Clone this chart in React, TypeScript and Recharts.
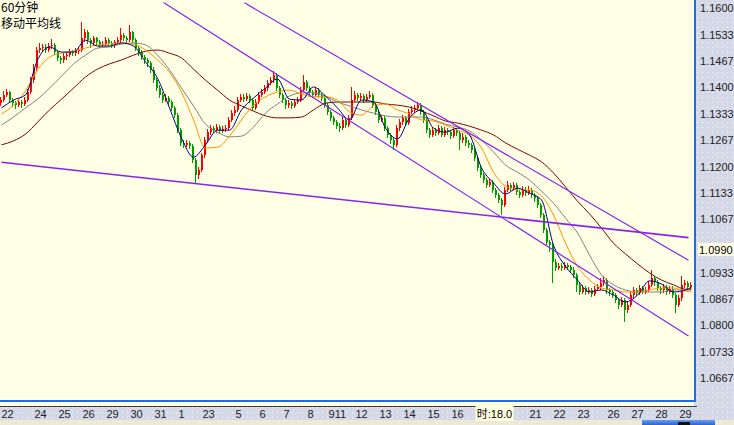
import { ComposedChart, Bar, Line, XAxis, YAxis, ReferenceLine } from "recharts";

// 60-minute bars
const opens = [
  1.1360, 1.1368, 1.1381, 1.1388, 1.1368, 1.1360, 1.1355, 1.1363, 1.1358, 1.1368,
  1.1388, 1.1418, 1.1449, 1.1494, 1.1499, 1.1502, 1.1494, 1.1504, 1.1507, 1.1489,
  1.1474, 1.1469, 1.1479, 1.1481, 1.1489, 1.1486, 1.1491, 1.1494, 1.1524, 1.1539,
  1.1519, 1.1512, 1.1524, 1.1514, 1.1507, 1.1509, 1.1519, 1.1512, 1.1507, 1.1514,
  1.1519, 1.1532, 1.1524, 1.1519, 1.1539, 1.1519, 1.1499, 1.1489, 1.1476, 1.1469,
  1.1461, 1.1444, 1.1418, 1.1398, 1.1381, 1.1368, 1.1373, 1.1363, 1.1348, 1.1330,
  1.1292, 1.1260, 1.1255, 1.1260, 1.1252, 1.1217, 1.1179, 1.1192, 1.1229, 1.1267,
  1.1287, 1.1297, 1.1292, 1.1300, 1.1290, 1.1295, 1.1297, 1.1318, 1.1335, 1.1343,
  1.1368, 1.1376, 1.1371, 1.1378, 1.1368, 1.1348, 1.1363, 1.1381, 1.1388, 1.1398,
  1.1411, 1.1418, 1.1431, 1.1398, 1.1381, 1.1368, 1.1355, 1.1360, 1.1353, 1.1363,
  1.1368, 1.1393, 1.1413, 1.1398, 1.1388, 1.1381, 1.1393, 1.1381, 1.1373, 1.1355,
  1.1338, 1.1323, 1.1313, 1.1303, 1.1297, 1.1318, 1.1305, 1.1323, 1.1368, 1.1381,
  1.1373, 1.1378, 1.1368, 1.1376, 1.1381, 1.1355, 1.1338, 1.1318, 1.1323, 1.1297,
  1.1280, 1.1267, 1.1255, 1.1297, 1.1313, 1.1323, 1.1310, 1.1338, 1.1343, 1.1348,
  1.1355, 1.1338, 1.1318, 1.1292, 1.1280, 1.1292, 1.1285, 1.1297, 1.1280, 1.1292,
  1.1287, 1.1277, 1.1292, 1.1285, 1.1267, 1.1275, 1.1260, 1.1255, 1.1242, 1.1222,
  1.1197, 1.1179, 1.1166, 1.1154, 1.1161, 1.1141, 1.1129, 1.1116, 1.1103, 1.1141,
  1.1154, 1.1146, 1.1154, 1.1136, 1.1129, 1.1141, 1.1134, 1.1141, 1.1129, 1.1121,
  1.1103, 1.1078, 1.1040, 1.1010, 1.1003, 1.0960, 1.0945, 1.0950, 1.0945, 1.0952,
  1.0947, 1.0940, 1.0927, 1.0902, 1.0884, 1.0894, 1.0884, 1.0889, 1.0879, 1.0892,
  1.0897, 1.0907, 1.0914, 1.0889, 1.0884, 1.0877, 1.0864, 1.0851, 1.0864, 1.0839,
  1.0851, 1.0877, 1.0889, 1.0882, 1.0894, 1.0884, 1.0889, 1.0902, 1.0919, 1.0909,
  1.0894, 1.0889, 1.0897, 1.0884, 1.0892, 1.0877, 1.0851, 1.0869, 1.0902, 1.0907,
  1.0897,
];

const highs = [
  1.1375, 1.1392, 1.1396, 1.1391, 1.1374, 1.1366, 1.1370, 1.1368, 1.1376, 1.1395,
  1.1425, 1.1458, 1.1502, 1.1512, 1.1510, 1.1508, 1.1512, 1.1522, 1.1512, 1.1494,
  1.1480, 1.1486, 1.1490, 1.1496, 1.1494, 1.1498, 1.1502, 1.1565, 1.1548, 1.1544,
  1.1524, 1.1530, 1.1528, 1.1520, 1.1516, 1.1526, 1.1524, 1.1518, 1.1520, 1.1526,
  1.1550, 1.1538, 1.1530, 1.1557, 1.1542, 1.1524, 1.1505, 1.1494, 1.1482, 1.1474,
  1.1466, 1.1450, 1.1424, 1.1405, 1.1388, 1.1382, 1.1378, 1.1368, 1.1352, 1.1335,
  1.1298, 1.1268, 1.1266, 1.1264, 1.1256, 1.1222, 1.1200, 1.1235, 1.1274, 1.1295,
  1.1305, 1.1302, 1.1308, 1.1305, 1.1302, 1.1306, 1.1325, 1.1342, 1.1352, 1.1375,
  1.1384, 1.1382, 1.1386, 1.1383, 1.1372, 1.1370, 1.1388, 1.1397, 1.1406, 1.1418,
  1.1426, 1.1441, 1.1435, 1.1404, 1.1386, 1.1374, 1.1367, 1.1366, 1.1370, 1.1376,
  1.1400, 1.1431, 1.1418, 1.1404, 1.1394, 1.1400, 1.1398, 1.1386, 1.1378, 1.1360,
  1.1344, 1.1328, 1.1318, 1.1310, 1.1325, 1.1322, 1.1330, 1.1401, 1.1390, 1.1386,
  1.1385, 1.1383, 1.1384, 1.1390, 1.1386, 1.1360, 1.1344, 1.1330, 1.1328, 1.1302,
  1.1286, 1.1272, 1.1304, 1.1320, 1.1330, 1.1328, 1.1345, 1.1352, 1.1356, 1.1363,
  1.1360, 1.1343, 1.1322, 1.1298, 1.1300, 1.1298, 1.1305, 1.1302, 1.1300, 1.1298,
  1.1292, 1.1300, 1.1298, 1.1290, 1.1284, 1.1280, 1.1266, 1.1260, 1.1248, 1.1228,
  1.1204, 1.1184, 1.1172, 1.1168, 1.1166, 1.1146, 1.1134, 1.1122, 1.1148, 1.1164,
  1.1160, 1.1162, 1.1158, 1.1142, 1.1150, 1.1148, 1.1150, 1.1146, 1.1134, 1.1126,
  1.1108, 1.1082, 1.1046, 1.1016, 1.1008, 1.0966, 1.0958, 1.0956, 1.0960, 1.0958,
  1.0952, 1.0946, 1.0932, 1.0908, 1.0902, 1.0900, 1.0896, 1.0894, 1.0900, 1.0905,
  1.0918, 1.0925, 1.0918, 1.0895, 1.0890, 1.0882, 1.0870, 1.0872, 1.0868, 1.0860,
  1.0884, 1.0896, 1.0894, 1.0902, 1.0898, 1.0896, 1.0912, 1.0940, 1.0924, 1.0914,
  1.0900, 1.0905, 1.0902, 1.0900, 1.0898, 1.0882, 1.0876, 1.0925, 1.0915, 1.0912,
  1.0910,
];

const lows = [
  1.1352, 1.1362, 1.1375, 1.1360, 1.1350, 1.1345, 1.1350, 1.1348, 1.1352, 1.1362,
  1.1383, 1.1412, 1.1442, 1.1486, 1.1490, 1.1486, 1.1488, 1.1496, 1.1482, 1.1466,
  1.1458, 1.1462, 1.1470, 1.1476, 1.1478, 1.1480, 1.1485, 1.1490, 1.1515, 1.1510,
  1.1500, 1.1505, 1.1506, 1.1498, 1.1500, 1.1503, 1.1505, 1.1498, 1.1500, 1.1508,
  1.1512, 1.1516, 1.1510, 1.1514, 1.1510, 1.1492, 1.1480, 1.1468, 1.1460, 1.1452,
  1.1436, 1.1410, 1.1390, 1.1374, 1.1360, 1.1362, 1.1355, 1.1340, 1.1322, 1.1285,
  1.1252, 1.1248, 1.1250, 1.1244, 1.1210, 1.1159, 1.1170, 1.1186, 1.1222, 1.1260,
  1.1280, 1.1284, 1.1286, 1.1283, 1.1284, 1.1288, 1.1292, 1.1312, 1.1328, 1.1338,
  1.1362, 1.1363, 1.1365, 1.1360, 1.1340, 1.1342, 1.1358, 1.1375, 1.1382, 1.1392,
  1.1405, 1.1412, 1.1390, 1.1374, 1.1360, 1.1346, 1.1348, 1.1345, 1.1348, 1.1358,
  1.1362, 1.1388, 1.1390, 1.1380, 1.1372, 1.1375, 1.1374, 1.1365, 1.1348, 1.1330,
  1.1314, 1.1305, 1.1296, 1.1288, 1.1292, 1.1298, 1.1300, 1.1318, 1.1362, 1.1366,
  1.1366, 1.1360, 1.1362, 1.1370, 1.1348, 1.1330, 1.1310, 1.1312, 1.1290, 1.1272,
  1.1258, 1.1242, 1.1250, 1.1290, 1.1306, 1.1302, 1.1305, 1.1332, 1.1336, 1.1342,
  1.1330, 1.1310, 1.1284, 1.1272, 1.1274, 1.1278, 1.1280, 1.1274, 1.1275, 1.1280,
  1.1270, 1.1272, 1.1278, 1.1242, 1.1260, 1.1252, 1.1248, 1.1235, 1.1215, 1.1190,
  1.1172, 1.1158, 1.1146, 1.1148, 1.1134, 1.1120, 1.1108, 1.1078, 1.1098, 1.1135,
  1.1138, 1.1140, 1.1128, 1.1120, 1.1124, 1.1126, 1.1128, 1.1120, 1.1112, 1.1095,
  1.1070, 1.1032, 1.1002, 1.0985, 1.0907, 1.0936, 1.0940, 1.0938, 1.0940, 1.0940,
  1.0932, 1.0918, 1.0885, 1.0876, 1.0878, 1.0876, 1.0878, 1.0872, 1.0874, 1.0886,
  1.0890, 1.0900, 1.0880, 1.0875, 1.0868, 1.0855, 1.0842, 1.0845, 1.0808, 1.0832,
  1.0846, 1.0870, 1.0875, 1.0876, 1.0878, 1.0878, 1.0884, 1.0896, 1.0900, 1.0886,
  1.0880, 1.0882, 1.0876, 1.0878, 1.0870, 1.0831, 1.0845, 1.0862, 1.0895, 1.0890,
  1.0892,
];

const closes = [
  1.1368, 1.1381, 1.1388, 1.1368, 1.1360, 1.1355, 1.1363, 1.1358, 1.1368, 1.1388,
  1.1418, 1.1449, 1.1494, 1.1499, 1.1502, 1.1494, 1.1504, 1.1507, 1.1489, 1.1474,
  1.1469, 1.1479, 1.1481, 1.1489, 1.1486, 1.1491, 1.1494, 1.1524, 1.1539, 1.1519,
  1.1512, 1.1524, 1.1514, 1.1507, 1.1509, 1.1519, 1.1512, 1.1507, 1.1514, 1.1519,
  1.1532, 1.1524, 1.1519, 1.1539, 1.1519, 1.1499, 1.1489, 1.1476, 1.1469, 1.1461,
  1.1444, 1.1418, 1.1398, 1.1381, 1.1368, 1.1373, 1.1363, 1.1348, 1.1330, 1.1292,
  1.1260, 1.1255, 1.1260, 1.1252, 1.1217, 1.1179, 1.1192, 1.1229, 1.1267, 1.1287,
  1.1297, 1.1292, 1.1300, 1.1290, 1.1295, 1.1297, 1.1318, 1.1335, 1.1343, 1.1368,
  1.1376, 1.1371, 1.1378, 1.1368, 1.1348, 1.1363, 1.1381, 1.1388, 1.1398, 1.1411,
  1.1418, 1.1431, 1.1398, 1.1381, 1.1368, 1.1355, 1.1360, 1.1353, 1.1363, 1.1368,
  1.1393, 1.1413, 1.1398, 1.1388, 1.1381, 1.1393, 1.1381, 1.1373, 1.1355, 1.1338,
  1.1323, 1.1313, 1.1303, 1.1297, 1.1318, 1.1305, 1.1323, 1.1368, 1.1381, 1.1373,
  1.1378, 1.1368, 1.1376, 1.1381, 1.1355, 1.1338, 1.1318, 1.1323, 1.1297, 1.1280,
  1.1267, 1.1255, 1.1297, 1.1313, 1.1323, 1.1310, 1.1338, 1.1343, 1.1348, 1.1355,
  1.1338, 1.1318, 1.1292, 1.1280, 1.1292, 1.1285, 1.1297, 1.1280, 1.1292, 1.1287,
  1.1277, 1.1292, 1.1285, 1.1267, 1.1275, 1.1260, 1.1255, 1.1242, 1.1222, 1.1197,
  1.1179, 1.1166, 1.1154, 1.1161, 1.1141, 1.1129, 1.1116, 1.1103, 1.1141, 1.1154,
  1.1146, 1.1154, 1.1136, 1.1129, 1.1141, 1.1134, 1.1141, 1.1129, 1.1121, 1.1103,
  1.1078, 1.1040, 1.1010, 1.1003, 1.0960, 1.0945, 1.0950, 1.0945, 1.0952, 1.0947,
  1.0940, 1.0927, 1.0902, 1.0884, 1.0894, 1.0884, 1.0889, 1.0879, 1.0892, 1.0897,
  1.0907, 1.0914, 1.0889, 1.0884, 1.0877, 1.0864, 1.0851, 1.0864, 1.0839, 1.0851,
  1.0877, 1.0889, 1.0882, 1.0894, 1.0884, 1.0889, 1.0902, 1.0919, 1.0909, 1.0894,
  1.0889, 1.0897, 1.0884, 1.0892, 1.0877, 1.0851, 1.0869, 1.0902, 1.0907, 1.0897,
  1.0902,
];

// moving averages, read every 4th bar (and the last one)
const maBars = Array.from({ length: 58 }, (_, k) => k * 4).concat(230);

const maNavy = [
  1.1348, 1.1368, 1.1381, 1.1469, 1.1502, 1.1489, 1.1489, 1.1519, 1.1504, 1.1504,
  1.1512, 1.1504, 1.1464, 1.1423, 1.1348, 1.1272, 1.1224, 1.1255, 1.1292, 1.1292,
  1.1343, 1.1373, 1.1398, 1.1421, 1.1370, 1.1368, 1.1401, 1.1378, 1.1348, 1.1318,
  1.1368, 1.1363, 1.1297, 1.1270, 1.1323, 1.1343, 1.1297, 1.1287, 1.1297, 1.1280,
  1.1197, 1.1159, 1.1131, 1.1146, 1.1133, 1.1116, 1.1002, 1.0949, 1.0914, 1.0884,
  1.0889, 1.0876, 1.0859, 1.0876, 1.0912, 1.0904, 1.0884, 1.0889, 1.0896,
];
const maOrange = [
  1.1333, 1.1355, 1.1391, 1.1444, 1.1476, 1.1486, 1.1491, 1.1499, 1.1507, 1.1509,
  1.1512, 1.1509, 1.1494, 1.1469, 1.1438, 1.1388, 1.1318, 1.1247, 1.1249, 1.1277,
  1.1318, 1.1355, 1.1376, 1.1388, 1.1393, 1.1383, 1.1376, 1.1376, 1.1368, 1.1338,
  1.1330, 1.1353, 1.1358, 1.1343, 1.1333, 1.1318, 1.1315, 1.1305, 1.1292, 1.1280,
  1.1247, 1.1186, 1.1151, 1.1141, 1.1141, 1.1126, 1.1078, 1.1007, 1.0949, 1.0914,
  1.0894, 1.0889, 1.0884, 1.0884, 1.0889, 1.0894, 1.0894, 1.0886, 1.0884,
];
const maGray = [
  1.1305, 1.1325, 1.1348, 1.1370, 1.1398, 1.1428, 1.1459, 1.1481, 1.1499, 1.1502,
  1.1509, 1.1512, 1.1507, 1.1481, 1.1444, 1.1398, 1.1353, 1.1307, 1.1287, 1.1275,
  1.1277, 1.1300, 1.1335, 1.1358, 1.1378, 1.1386, 1.1386, 1.1378, 1.1363, 1.1353,
  1.1343, 1.1335, 1.1328, 1.1325, 1.1325, 1.1325, 1.1318, 1.1307, 1.1300, 1.1290,
  1.1267, 1.1237, 1.1204, 1.1186, 1.1166, 1.1138, 1.1108, 1.1070, 1.1033, 1.0977,
  1.0927, 1.0902, 1.0889, 1.0884, 1.0884, 1.0884, 1.0889, 1.0889, 1.0889,
];
const maRed = [
  1.1255, 1.1265, 1.1282, 1.1312, 1.1343, 1.1370, 1.1398, 1.1426, 1.1446, 1.1459,
  1.1469, 1.1481, 1.1491, 1.1494, 1.1486, 1.1474, 1.1446, 1.1418, 1.1393, 1.1368,
  1.1353, 1.1340, 1.1328, 1.1323, 1.1323, 1.1325, 1.1343, 1.1360, 1.1363, 1.1363,
  1.1363, 1.1363, 1.1358, 1.1355, 1.1350, 1.1340, 1.1328, 1.1315, 1.1310, 1.1302,
  1.1292, 1.1280, 1.1260, 1.1244, 1.1229, 1.1212, 1.1184, 1.1149, 1.1113, 1.1081,
  1.1045, 1.1007, 1.0980, 1.0955, 1.0932, 1.0914, 1.0902, 1.0891, 1.0891,
];

// hand-drawn trend lines: [bar, price] -> [bar, price]
const trendLines = [
  { from: [54, 1.1614], to: [229, 1.0773], width: 1.2 },
  { from: [81, 1.1613], to: [229, 1.0964], width: 1.2 },
  { from: [0, 1.1211], to: [229, 1.1021], width: 1.6 },
];

const dayTicks = [2, 13, 21, 29, 37, 45, 53, 60, 69, 79, 87, 95, 103, 110, 113, 120, 128, 136, 144, 152, 164, 178, 186, 194, 204, 212, 220, 228];
const dayLabels = ["22", "24", "25", "26", "29", "30", "31", "1", "23", "5", "6", "7", "8", "9", "11", "12", "13", "14", "15", "16", "时:18.0", "21", "22", "23", "26", "27", "28", "29"];
const cursorLabel = "时:18.0";

const priceTicks = [1.16, 1.1533, 1.1467, 1.14, 1.1333, 1.1267, 1.12, 1.1133, 1.1067, 1.0933, 1.0867, 1.08, 1.0733, 1.0667];
const lastPrice = 1.099;

const UP = "#ff0000";
const DOWN = "#009c00";
const PLOT_BG = "#ffffe6";
const STRIP = "#d5d8e6";
const FRAME = "#1a6ee8";
const PURPLE = "#8a22ee";
const FONT = "'Liberation Sans', Arial, 'Noto Sans CJK SC', sans-serif";

const rows = closes.map((c, i) => {
  const k = maBars.indexOf(i);
  return {
    i,
    o: opens[i],
    h: highs[i],
    l: lows[i],
    c,
    range: [lows[i], highs[i]],
    navy: k >= 0 ? maNavy[k] : null,
    orange: k >= 0 ? maOrange[k] : null,
    gray: k >= 0 ? maGray[k] : null,
    red: k >= 0 ? maRed[k] : null,
  };
});

function Candle(props: any) {
  const { x, y, height, payload } = props;
  if (!payload || x == null) return null;
  const { o, c, h, l } = payload;
  const top = Math.min(y, y + height);
  const hh = Math.abs(height);
  const span = h - l || 1;
  const color = c > o ? UP : DOWN;
  const bTop = top + ((h - Math.max(o, c)) / span) * hh;
  const bBot = top + ((h - Math.min(o, c)) / span) * hh;
  const bx = Math.round(x);
  return (
    <g shapeRendering="crispEdges">
      <line x1={bx + 0.5} x2={bx + 0.5} y1={top} y2={top + hh} stroke={color} strokeWidth={1} />
      <rect x={bx} y={bTop} width={2} height={Math.max(1, bBot - bTop)} fill={color} />
    </g>
  );
}

function DayTick(props: any) {
  const { x, payload } = props;
  const label = dayLabels[dayTicks.indexOf(payload.value)];
  if (label === cursorLabel) {
    return (
      <g>
        <rect x={x - 18} y={406} width={38} height={15} fill="#ffffe0" />
        <text x={x + 1} y={418} textAnchor="middle" fontSize={11} fontFamily={FONT} fill="#000">
          {label}
        </text>
      </g>
    );
  }
  return (
    <text x={x} y={418} textAnchor="middle" fontSize={11} fontFamily={FONT} fill="#222">
      {label}
    </text>
  );
}

function PriceTick(props: any) {
  const { y, payload } = props;
  const v = payload.value;
  if (v === lastPrice) {
    return (
      <g>
        <rect x={698} y={y - 7} width={36} height={13} fill={PLOT_BG} />
        <text x={699} y={y + 4} fontSize={11} fontFamily={FONT} fill="#000">
          {v.toFixed(4)}
        </text>
      </g>
    );
  }
  return (
    <text x={700} y={y + 4} fontSize={11} fontFamily={FONT} fill="#222">
      {v.toFixed(4)}
    </text>
  );
}

const abs = (left: number, top: number, width: number, height: number, background: string) => ({
  position: "absolute" as const,
  left,
  top,
  width,
  height,
  background,
});

const titleStyle = (top: number) => ({
  position: "absolute" as const,
  left: 1,
  top,
  fontSize: 12,
  lineHeight: "14px",
  fontFamily: "'Noto Sans CJK SC', sans-serif",
  color: "#000",
  whiteSpace: "nowrap" as const,
});

export default function App() {
  return (
    <div style={{ ...abs(0, 0, 734, 425, STRIP), overflow: "hidden" }}>
      <div
        style={{
          ...abs(0, 0, 734, 420, STRIP),
          backgroundImage: "radial-gradient(circle, rgba(255,255,255,0.8) 0.6px, transparent 0.9px)",
          backgroundSize: "5px 5px",
        }}
      />
      <div style={abs(0, 0, 694, 406, PLOT_BG)} />
      <div style={abs(0, 406, 697, 1, "#3a3a3a")} />
      <div style={abs(0, 420, 734, 5, "#ece9d8")} />
      <div style={abs(642, 420, 73, 5, "linear-gradient(#6aa0ee, #2a62cc)")} />
      <div style={abs(678, 422, 12, 3, "#111")} />
      <div style={{ position: "absolute", left: 0, top: 0 }}>
        <ComposedChart
          width={734}
          height={425}
          data={rows}
          margin={{ top: 0, right: 0, bottom: 0, left: 0 }}
          barCategoryGap={0}
          barGap={0}
        >
          <XAxis
            dataKey="i"
            type="category"
            ticks={dayTicks}
            interval={0}
            height={25}
            axisLine={false}
            tickLine={false}
            tick={<DayTick />}
          />
          <YAxis
            orientation="right"
            width={41}
            type="number"
            domain={[1.06116, 1.16202]}
            allowDataOverflow
            ticks={[...priceTicks, lastPrice]}
            interval={0}
            axisLine={false}
            tickLine={false}
            tick={<PriceTick />}
          />
          <Bar dataKey="range" shape={<Candle />} isAnimationActive={false} />
          <Line type="monotone" dataKey="red" stroke="#800000" strokeWidth={1} dot={false} activeDot={false} connectNulls isAnimationActive={false} />
          <Line type="monotone" dataKey="gray" stroke="#808080" strokeWidth={1} dot={false} activeDot={false} connectNulls isAnimationActive={false} />
          <Line type="monotone" dataKey="orange" stroke="#ff9000" strokeWidth={1} dot={false} activeDot={false} connectNulls isAnimationActive={false} />
          <Line type="monotone" dataKey="navy" stroke="#000080" strokeWidth={1} dot={false} activeDot={false} connectNulls isAnimationActive={false} />
          {trendLines.map((t, n) => (
            <ReferenceLine
              key={n}
              segment={[
                { x: t.from[0], y: t.from[1] },
                { x: t.to[0], y: t.to[1] },
              ]}
              stroke={PURPLE}
              strokeWidth={t.width}
              ifOverflow="visible"
            />
          ))}
        </ComposedChart>
      </div>
      <div style={abs(694, 0, 2, 402, FRAME)} />
      <div style={abs(0, 400, 696, 2, FRAME)} />
      <div style={titleStyle(0)}>60分钟</div>
      <div style={titleStyle(16)}>移动平均线</div>
    </div>
  );
}
